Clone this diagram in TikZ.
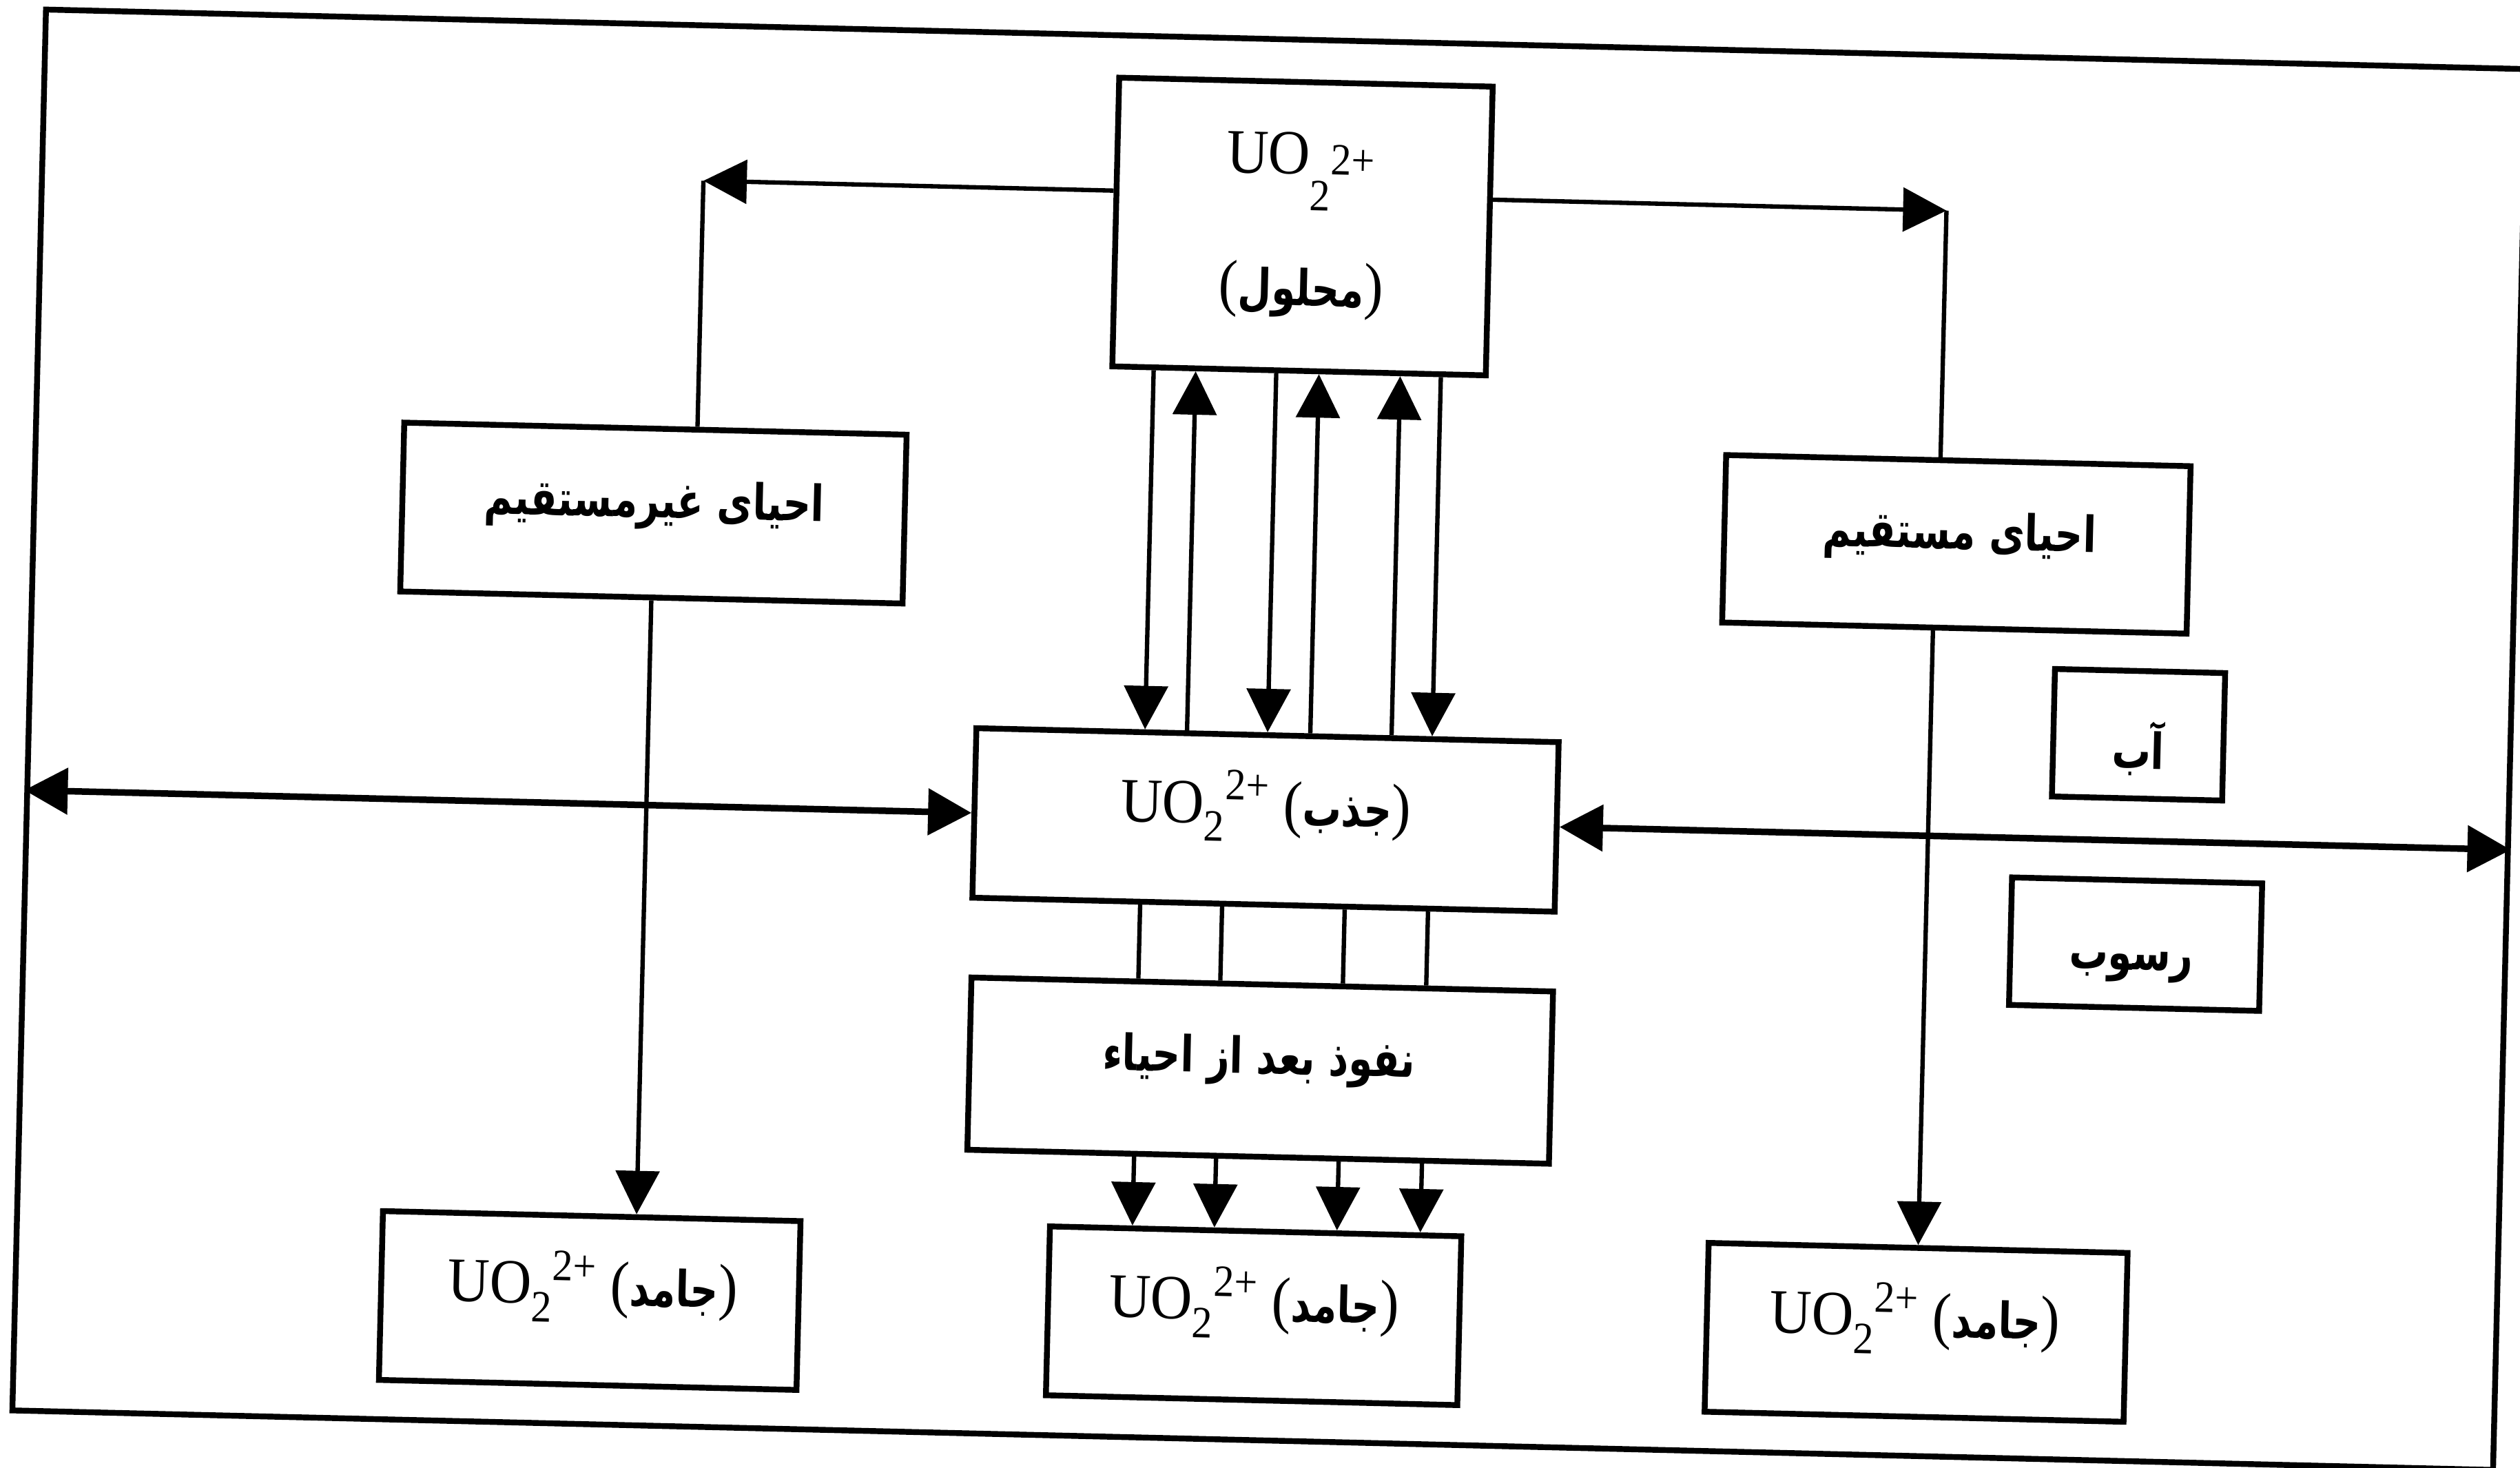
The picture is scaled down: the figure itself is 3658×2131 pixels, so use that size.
\documentclass[tikz,border=0pt]{standalone}
\usepackage{fontspec}
\setmainfont{Liberation Serif}[FakeStretch=0.92]
\newfontfamily\arfont[Script=Arabic,FakeStretch=0.78]{DejaVu Sans Bold}
\TeXXeTstate=1
\usetikzlibrary{arrows.meta}
\newcommand\uran[2]{UO\raisebox{#1}{\fontsize{18.5}{18.5}\selectfont 2}\raisebox{#2}{\fontsize{18.5}{18.5}\selectfont 2+}}
\newcommand\fa[1]{{\arfont\fontsize{20.5}{25}\selectfont\beginR #1\endR}}
\begin{document}
\begin{tikzpicture}[x=0.01cm,y=-0.01cm,
  font=\fontsize{26}{30}\selectfont,
  >={Triangle[length=6.3mm,width=6.3mm]},
  box/.style={draw,line width=2.4pt,inner sep=0pt},
  conn/.style={line width=1.8pt},
  bigconn/.style={line width=2.7pt,{Triangle[length=6.3mm,width=6.6mm]}-{Triangle[length=6.3mm,width=6.6mm]}},
  txt/.style={inner sep=0pt}]
\useasboundingbox (0,0) rectangle (3658,2131);
\fill[white] (0,0) rectangle (3658,2131);
\begin{scope}[transform canvas={rotate around={-1.375:(1829,1065)}}]
% frame and boxes
\node[box,minimum width=36cm,minimum height=20.33cm] (frame) at (1843,1073.5) {};
\node[box,minimum width=5.42cm,minimum height=4.19cm] (mahlul) at (1873,327.5) {};
\node[box,minimum width=7.29cm,minimum height=2.45cm] (ehyaG) at (941,766) {};
\node[box,minimum width=6.74cm,minimum height=2.43cm] (ehyaM) at (2833,766) {};
\node[box,minimum width=8.45cm,minimum height=2.46cm] (jazb) at (1840,1190) {};
\node[box,minimum width=2.47cm,minimum height=1.85cm] (ab) at (3104,1036) {};
\node[box,minimum width=3.63cm,minimum height=1.85cm] (rosub) at (3107,1340) {};
\node[box,minimum width=8.44cm,minimum height=2.50cm] (nofuz) at (1841,1554) {};
\node[box,minimum width=6.06cm,minimum height=2.45cm] (jamedL) at (876,1911) {};
\node[box,minimum width=5.97cm,minimum height=2.45cm] (jamedM) at (1840,1910) {};
\node[box,minimum width=6.08cm,minimum height=2.45cm] (jamedR) at (2802,1911) {};
% texts
\node[txt,anchor=base] (tm1) at (1868,251.5) {\uran{-0.52cm}{0pt}};
\node[txt] (tm2) at (1873,420.5) {(\fa{محلول})};
\node[txt] (tg) at (942,754) {\fa{احیای غیرمستقیم}};
\node[txt] (tmst) at (2837,754) {\fa{احیای مستقیم}};
\node[txt,anchor=base] (tj) at (1840,1197) {\uran{-0.25cm}{0.35cm} (\fa{جذب})};
\node[txt] (tab) at (3104,1056) {\fa{آب}};
\node[txt] (trs) at (3101,1373) {\fa{رسوب}};
\node[txt] (tnf) at (1839,1540) {\fa{نفوذ بعد از احیاء}};
\node[txt,anchor=base] (tjl) at (880,1917) {\uran{-0.27cm}{0.34cm} (\fa{جامد})};
\node[txt,anchor=base] (tjm) at (1840,1917) {\uran{-0.27cm}{0.34cm} (\fa{جامد})};
\node[txt,anchor=base] (tjr) at (2800,1917) {\uran{-0.27cm}{0.34cm} (\fa{جامد})};
% corner connectors
\coordinate (c1) at (1002,282);
\coordinate (c2) at (2807,282);
\draw[conn,->] (mahlul.west |- c1) -- (c1);
\draw[conn] (c1) -- (c1 |- ehyaG.north);
\draw[conn,->] (mahlul.east |- c2) -- (c2);
\draw[conn] (c2) -- (c2 |- ehyaM.north);
\draw[conn,->] (ehyaG.south) -- (ehyaG.south |- jamedL.north);
\draw[conn,->] (jamedR.north |- ehyaM.south) -- (jamedR.north);
% exchange arrows
\coordinate (v1) at (1662,0);
\coordinate (v2) at (1723,0);
\coordinate (v3) at (1840,0);
\coordinate (v4) at (1902,0);
\coordinate (v5) at (2020,0);
\coordinate (v6) at (2079,0);
\draw[conn,->] (v1 |- mahlul.south) -- (v1 |- jazb.north);
\draw[conn,->] (v2 |- jazb.north) -- (v2 |- mahlul.south);
\draw[conn,->] (v3 |- mahlul.south) -- (v3 |- jazb.north);
\draw[conn,->] (v4 |- jazb.north) -- (v4 |- mahlul.south);
\draw[conn,->] (v5 |- jazb.north) -- (v5 |- mahlul.south);
\draw[conn,->] (v6 |- mahlul.south) -- (v6 |- jazb.north);
% lines through nofuz
\coordinate (w1) at (1661,0);
\coordinate (w2) at (1780,0);
\coordinate (w3) at (1958,0);
\coordinate (w4) at (2079,0);
\foreach \w in {w1,w2,w3,w4}{
  \draw[conn] (\w |- jazb.south) -- (\w |- nofuz.north);
  \draw[conn,->] (\w |- nofuz.south) -- (\w |- jamedM.north);
}
% double arrows
\draw[bigconn] (frame.west |- jazb.west) -- (jazb.west);
\draw[bigconn] (jazb.east) -- (frame.east |- jazb.east);
\end{scope}
\end{tikzpicture}
\end{document}
